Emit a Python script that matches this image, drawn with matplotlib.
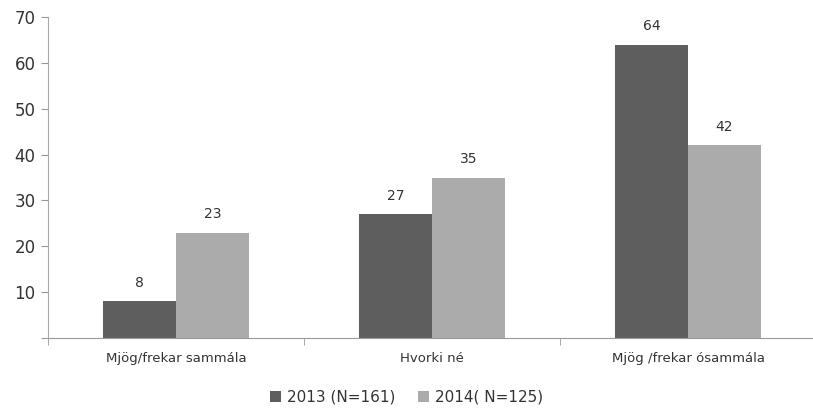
import matplotlib
matplotlib.use("Agg")
import matplotlib.pyplot as plt
import numpy as np

categories = ["Mjög/frekar sammála", "Hvorki né", "Mjög /frekar ósammála"]
series_names = ["2013 (N=161)", "2014( N=125)"]
values_2013 = [8, 27, 64]
values_2014 = [23, 35, 42]
colors = ["#5e5e5e", "#ababab"]

fig = plt.figure(figsize=(8.13, 4.12), dpi=100)
ax = fig.add_axes([48/813, 74/412, 768/813, 321/412])

x = np.arange(len(categories))
w = 0.285
b1 = ax.bar(x - w/2, values_2013, w, color=colors[0], label=series_names[0])
b2 = ax.bar(x + w/2, values_2014, w, color=colors[1], label=series_names[1])
for bars in (b1, b2):
    for r in bars:
        ax.text(r.get_x() + r.get_width()/2, r.get_height() + 2.5, f"{int(r.get_height())}",
                ha="center", va="bottom", fontsize=10, color="#333333")

ax.set_xlim(-0.5, 2.5)
ax.set_ylim(0, 70)
ax.set_yticks(range(0, 71, 10))
ax.set_yticklabels([""] + [str(v) for v in range(10, 71, 10)])
ax.set_xticks(x)
ax.set_xticklabels(categories)
ax.set_xticks([-0.5, 0.5, 1.5, 2.5], minor=True)
ax.tick_params(axis="x", which="major", length=0, pad=10, labelsize=9.5, colors="#333333")
ax.tick_params(axis="x", which="minor", length=5, direction="out", color="#999999")
ax.tick_params(axis="y", length=5, direction="out", color="#999999", labelsize=12, labelcolor="#333333", pad=4)
for s in ("top", "right"):
    ax.spines[s].set_visible(False)
ax.spines["left"].set_color("#aaaaaa")
ax.spines["bottom"].set_color("#999999")

fig.legend(handles=[b1, b2], labels=series_names, loc="center", bbox_to_anchor=(0.5, 15/412*1 + 0.0),
           ncol=2, frameon=False, fontsize=11, handlelength=0.7, handleheight=0.7,
           handletextpad=0.4, columnspacing=1.5, labelcolor="#333333")

fig.savefig("out.png", dpi=100)
